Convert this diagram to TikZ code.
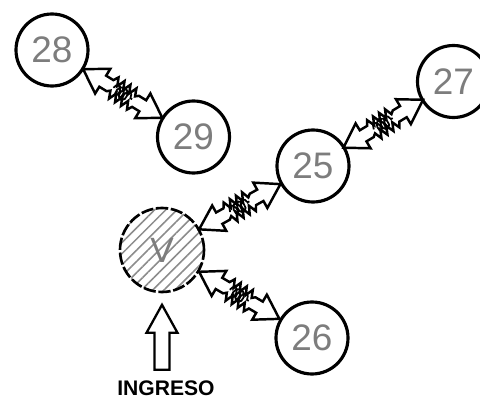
\documentclass[tikz,border=0pt]{standalone}
\usepackage{fontspec}
\setmainfont{Liberation Sans}
\usepackage{tikz}
\usetikzlibrary{calc,patterns.meta,decorations.pathmorphing}
\definecolor{grisNum}{RGB}{125,125,125}
\definecolor{grisRaya}{RGB}{140,140,140}

\tikzset{
  resorte/.pic={
    \draw[line width=1.4pt, line join=miter]
      (-0.93,0) -- (-0.47,0.29) -- (-0.47,0.13) -- (-0.3,0.13)
      -- (-0.24,0.23) -- (-0.17,0.07) -- (-0.1,0.23) -- (-0.03,0.07)
      -- (0.04,0.23) -- (0.11,0.07) -- (0.18,0.23) -- (0.24,0.08)
      -- (0.3,0.13) -- (0.47,0.13) -- (0.47,0.29) -- (0.93,0)
      -- (0.47,-0.29) -- (0.47,-0.13) -- (0.3,-0.13)
      -- (0.24,-0.23) -- (0.17,-0.07) -- (0.1,-0.23) -- (0.03,-0.07)
      -- (-0.04,-0.23) -- (-0.11,-0.07) -- (-0.18,-0.23) -- (-0.24,-0.08)
      -- (-0.3,-0.13) -- (-0.47,-0.13) -- (-0.47,-0.29) -- cycle;
    \draw[line width=1pt, decorate,
          decoration={coil, amplitude=3pt, segment length=2.4pt}]
      (-0.22,0) -- (0.22,0);
  }
}

\begin{document}
\begin{tikzpicture}[
  nodo/.style={circle, draw, line width=1.8pt, minimum size=1.44cm,
               inner sep=0pt, text=grisNum, font=\fontsize{21}{24}\selectfont},
  nodoV/.style={circle, draw, line width=1.5pt, minimum size=1.68cm,
                dash pattern=on 7pt off 1.5pt,
                pattern={Lines[angle=45, distance=4.5pt, line width=0.9pt]},
                pattern color=grisRaya, inner sep=0pt, text=grisNum,
                font=\fontsize{20}{22}\selectfont}]

  \useasboundingbox (0,0) rectangle (9.6,7.96);

  \node[nodo] (n28) at (1.04,6.96) {28};
  \node[nodo] (n29) at (3.87,5.22) {29};
  \node[nodo] (n27) at (9.07,6.33) {27};
  \node[nodo] (n25) at (6.26,4.64) {25};
  \node[nodo] (n26) at (6.24,1.20) {26};
  \node[nodoV] (v) at (3.24,2.96) {V};

  \node[font=\bfseries\fontsize{12}{14}\selectfont] (ingreso) at (3.32,0.2) {INGRESO};

  % conexiones con resorte
  \path (n28) -- (n29) pic[pos=0.5, sloped]{resorte};
  \path (n25) -- (n27) pic[pos=0.5, sloped]{resorte};
  \path (v) -- (n25) pic[pos=0.5, sloped]{resorte};
  \path (v) -- (n26) pic[pos=0.5, sloped]{resorte};

  % flecha de ingreso
  \coordinate (punta) at ($(v.south)+(0,-0.24)$);
  \draw[line width=1.3pt, line join=miter] (punta) -- ++(-0.31,-0.56) -- ++(0.16,0)
    -- ++(0,-0.74) -- ++(0.3,0) -- ++(0,0.74) -- ++(0.16,0) -- cycle;
\end{tikzpicture}
\end{document}
